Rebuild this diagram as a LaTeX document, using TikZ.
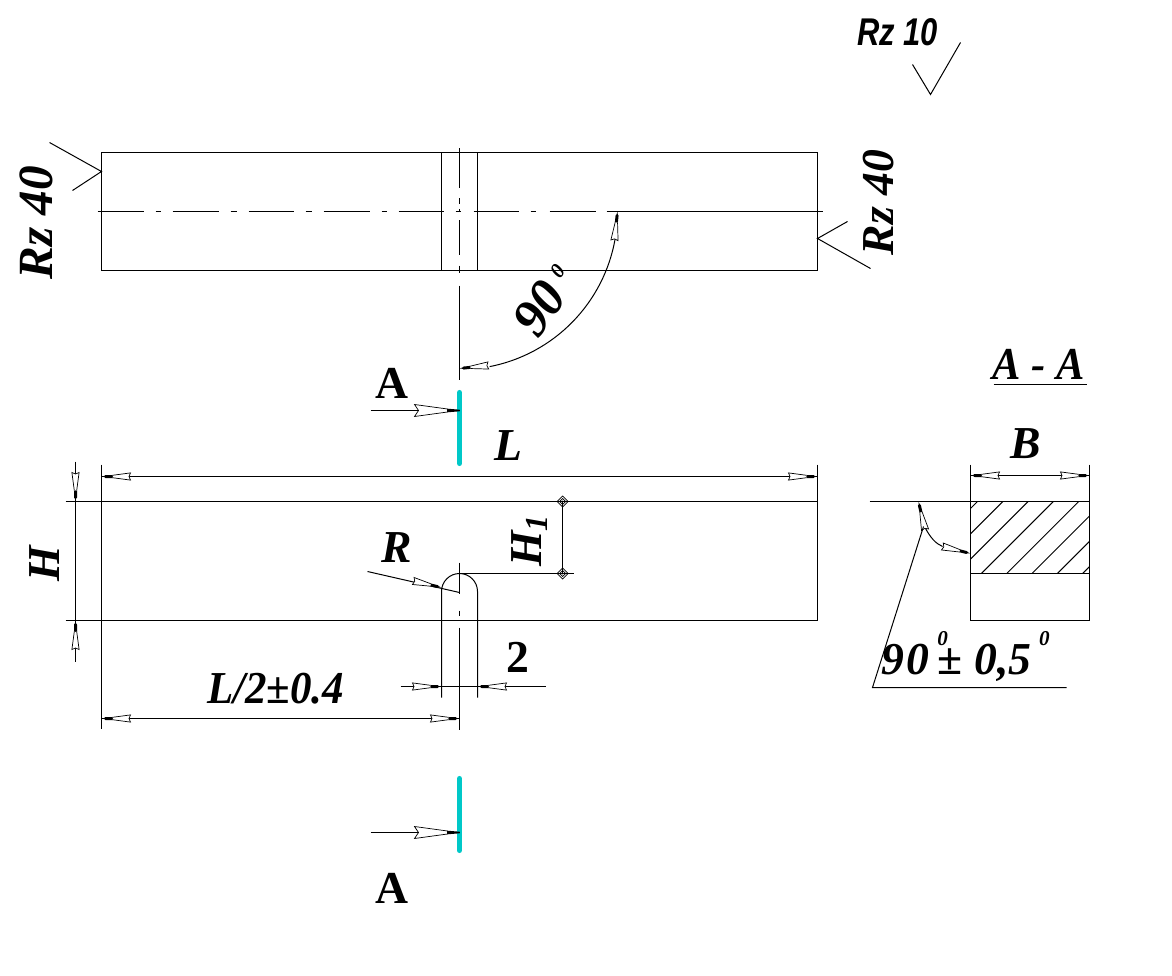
\documentclass[tikz,border=0pt]{standalone}
\usepackage{fontspec}
\setmainfont{Liberation Serif}
\newfontfamily\roughfont{Liberation Sans}
\definecolor{cutteal}{RGB}{0,200,200}

\tikzset{
	part/.style={line width=0.57pt},
	thinline/.style={line width=0.57pt},
	cutline/.style={cutteal, line width=2.9pt, line cap=round},
	label/.style={font=\bfseries\itshape\fontsize{26}{26}\selectfont, inner sep=0pt},
	uplabel/.style={font=\bfseries\fontsize{26}{26}\selectfont, inner sep=0pt},
	dimtip/.pic={
		\draw[line width=0.4pt, fill=white] (-11,-1.2) -- (-29,-3.6) -- (-27.5,0) -- (-29,3.6) -- (-11,1.2);
		\fill (0,0) -- (-3,-.6) -- (-4,-1.5) -- (-11,-1.5) -- (-11,1.5) -- (-4,1.5) -- (-3,.6) -- cycle;
	},
	cuttip/.pic={
		\draw[line width=0.4pt, fill=white] (-12,-1.5) -- (-45,-6) -- (-41,0) -- (-45,6) -- (-12,1.5) -- cycle;
		\fill (0,-.8) -- (-12,-1.8) -- (-12,1.8) -- (0,.8) -- cycle;
	},
	dimdot/.pic={
		\draw[line width=0.4pt] (-5.5,0) -- (0,-5.5) -- (5.5,0) -- (0,5.5) -- cycle;
		\draw[line width=0.4pt] (-3,0) -- (0,-3) -- (3,0) -- (0,3) -- cycle;
		\fill (0,0) circle (1);
	}
}

\begin{document}
\begin{tikzpicture}[x=0.02cm, y=-0.02cm]
	\useasboundingbox (-.5,-.5) rectangle (1171.5,975.5);

	\draw[part] (101,152) rectangle (817,270);
	\draw[part] (441,152) -- (441,270);
	\draw[part] (477,152) -- (477,270);
	\draw[thinline] (97,211) -- (143,211) (155,211) -- (160,211) (172,211) -- (218,211) (230,211) -- (236,211)
		(248,211) -- (293,211) (305,211) -- (311,211) (323,211) -- (369,211) (381,211) -- (386,211) (398,211) -- (443,211)
		(455,211) -- (460,211) (473,211) -- (518,211) (530,211) -- (535,211) (549,211) -- (595,211) (606,211) -- (822,211);
	\draw[thinline] (459,148) -- (459,188) (459,198) -- (459,204) (459,209) -- (459,212)
		(459,220) -- (459,255) (459,265) -- (459,272) (459,285) -- (459,379);

	\draw[thinline] (49,142) -- (101,171) -- (72,190);
	\draw[thinline] (847,221) -- (817,238) -- (870,268);
	\draw[thinline] (912,64) -- (930,94) -- (960,42);

	\draw[thinline] ([shift={(10:158)}]459,211) arc[start angle=10, end angle=79, radius=158];
	\pic[rotate=84] at (617,211) {dimtip};
	\pic[rotate=186] at (459,368) {dimtip};

	\node[label, font=\bfseries\itshape\fontsize{28}{28}\selectfont, rotate=90] (rzleft) at (36,222) {Rz 40};
	\node[label, rotate=90] (rzright) at (878,202) {Rz 40};
	\node[font=\roughfont\bfseries\itshape\fontsize{22}{22}\selectfont, xscale=.8, inner sep=0pt] (rztop) at (897,32) {Rz 10};
	\node[label, font=\bfseries\itshape\fontsize{30}{30}\selectfont, rotate=55] (angletop) at (539,308) {90};
	\node[label, font=\bfseries\itshape\fontsize{12}{12}\selectfont, rotate=55] (angledeg) at (557,271) {0};

	\draw[cutline] (459,392) -- (459,463);
	\draw[cutline] (459,778) -- (459,850);
	\draw[part] (370,410) -- (459,410);
	\draw[part] (370,832) -- (459,832);
	\pic at (459,410) {cuttip};
	\pic at (459,832) {cuttip};
	\node[uplabel] (cuttop) at (391,383) {A};
	\node[uplabel] (cutbottom) at (391,888) {A};

	\draw[part] (101,501) rectangle (817,620);
	\draw[part] (65,501) -- (101,501);
	\draw[part] (65,620) -- (101,620);
	\draw[part] (101,464) -- (101,501);
	\draw[part] (817,464) -- (817,501);
	\draw[part] (101,620) -- (101,728);
	\draw[part] (101,476) -- (817,476);
	\pic[rotate=180] at (101,476) {dimtip};
	\pic at (817,476) {dimtip};
	\node[label] (lenlabel) at (508,445) {L};

	\draw[part] (75,461) -- (75,661);
	\pic[rotate=-90] at (75,501) {dimtip};
	\pic[rotate=90] at (75,620) {dimtip};
	\node[label, rotate=90] (heightlabel) at (44,563) {H};

	\draw[part] (441,697) -- (441,591) arc[start angle=180, end angle=360, radius=18] -- (477,697);
	\draw[thinline] (459,562) -- (459,593) (459,610) -- (459,615) (459,627) -- (459,729);
	\draw[part] (459,573) -- (573,573);
	\draw[part] (562,501) -- (562,573);
	\pic at (562,501) {dimdot};
	\pic at (562,573) {dimdot};
	\node[label, rotate=90] (slotlabel) at (529,540) {H\textsubscript{1}};

	\draw[thinline] (367,571) -- (459,592);
	\pic[rotate=-13] at (441,587) {dimtip};
	\node[label] (radlabel) at (396,547) {R};

	\draw[part] (400,686) -- (545,686);
	\pic at (441,686) {dimtip};
	\pic[rotate=180] at (477,686) {dimtip};
	\node[uplabel] (widthlabel) at (517,657) {2};

	\draw[part] (101,718) -- (459,718);
	\pic[rotate=180] at (101,718) {dimtip};
	\pic at (459,718) {dimtip};
	\node[label, xscale=.94] (midlabel) at (275,688) {L/2±0.4};

	\node[label, xscale=.93] (sectlabel) at (1038,364) {A - A};
	\draw[part] (993,384) -- (1086,384);

	\begin{scope}
		\clip (970,501) rectangle (1089,573);
		\foreach \k in {0,...,7}
			\draw[thinline] ({1478+25.3*\k-501},501) -- ({1478+25.3*\k-573},573);
	\end{scope}
	\draw[part] (970,501) rectangle (1089,620);
	\draw[part] (970,573) -- (1089,573);
	\draw[part] (869,501) -- (970,501);
	\draw[part] (970,464) -- (970,501);
	\draw[part] (1089,464) -- (1089,501);
	\draw[part] (970,475) -- (1089,475);
	\pic[rotate=180] at (970,475) {dimtip};
	\pic at (1089,475) {dimtip};
	\node[label] (sidelabel) at (1025,443) {B};

	\draw[thinline] (925,528) .. controls (930,537) and (935,543) .. (942,546);
	\pic[rotate=103] at (918,501) {dimtip};
	\pic[rotate=-14] at (970,553) {dimtip};
	\draw[part] (923,526) -- (872,687) -- (1066,687);
	\node[label] (tollabel) at (965,656) {9\kern.06em 0\,\raisebox{.62em}{\fontsize{12}{12}\selectfont 0}\kern-.22em± 0,5\,\raisebox{.62em}{\fontsize{12}{12}\selectfont 0}};
\end{tikzpicture}
\end{document}
